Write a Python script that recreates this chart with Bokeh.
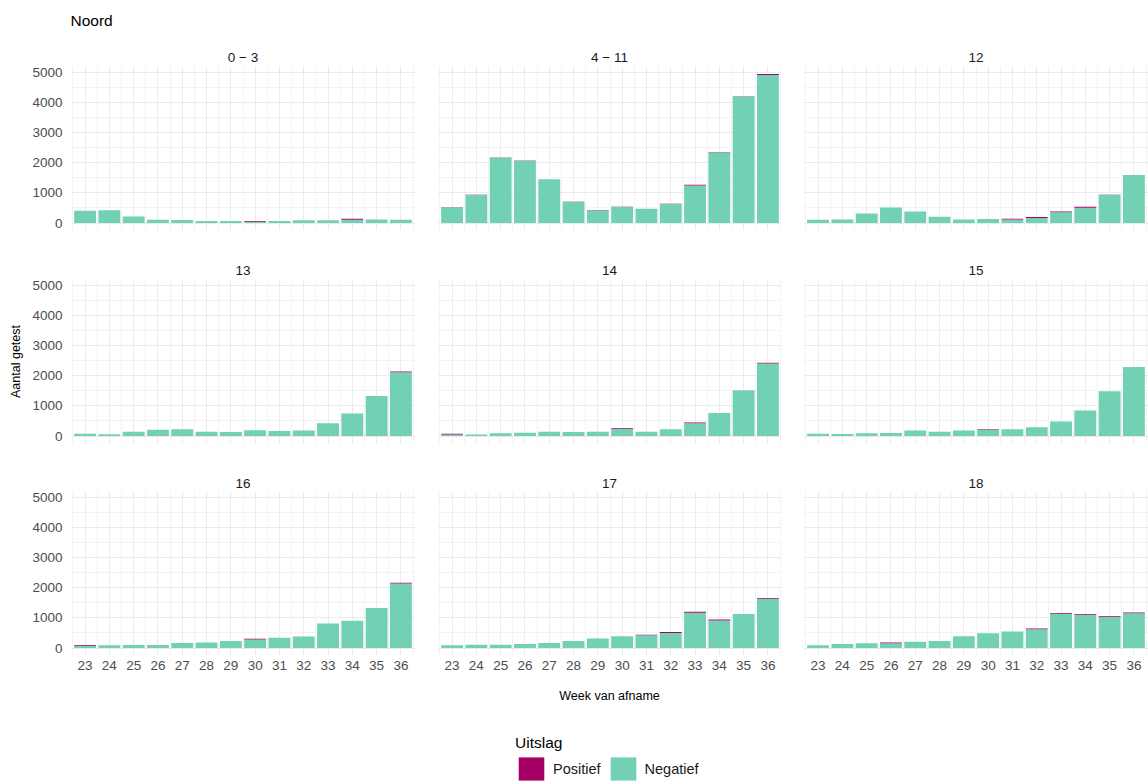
from bokeh.plotting import figure
from bokeh.models import ColumnDataSource, Range1d, FixedTicker, Label, Legend, LegendItem
from bokeh.layouts import column, row
from bokeh.embed import file_html
from bokeh.resources import INLINE

# ---------------- data ----------------
weeks = list(range(23, 37))
week_labels = [str(w) for w in weeks]
panel_names = ["0 \u2212 3", "4 \u2212 11", "12", "13", "14", "15", "16", "17", "18"]

tot_0_3 = [410, 420, 220, 110, 100, 65, 65, 65, 65, 95, 95, 140, 120, 110]
tot_4_11 = [520, 935, 2170, 2070, 1455, 705, 430, 540, 475, 640, 1265, 2355, 4205, 4940]
tot_12 = [110, 120, 320, 515, 385, 210, 120, 130, 145, 200, 385, 540, 935, 1595]
tot_13 = [80, 60, 145, 210, 225, 145, 135, 190, 170, 180, 425, 750, 1330, 2140]
tot_14 = [80, 55, 90, 110, 145, 135, 145, 260, 145, 225, 450, 760, 1520, 2425]
tot_15 = [80, 65, 90, 100, 180, 145, 180, 235, 225, 290, 480, 850, 1485, 2290]
tot_16 = [100, 90, 100, 100, 170, 180, 235, 305, 345, 380, 815, 905, 1330, 2160]
tot_17 = [90, 110, 110, 135, 170, 235, 315, 390, 440, 530, 1200, 945, 1130, 1655]
tot_18 = [90, 135, 155, 180, 210, 235, 390, 490, 545, 650, 1155, 1130, 1065, 1175]

pos_0_3 = [0, 0, 0, 0, 0, 0, 0, 25, 0, 0, 0, 30, 0, 0]
pos_4_11 = [5, 5, 5, 5, 5, 5, 5, 5, 5, 5, 20, 10, 10, 35]
pos_12 = [0, 0, 0, 0, 0, 0, 0, 0, 30, 30, 25, 30, 5, 5]
pos_13 = [0, 0, 0, 0, 0, 0, 0, 0, 0, 0, 0, 0, 0, 30]
pos_14 = [25, 0, 0, 0, 0, 0, 0, 25, 0, 0, 25, 0, 0, 20]
pos_15 = [0, 0, 0, 0, 0, 0, 0, 20, 0, 0, 0, 0, 0, 0]
pos_16 = [25, 0, 0, 0, 0, 0, 0, 25, 0, 0, 0, 0, 0, 25]
pos_17 = [0, 0, 0, 0, 0, 0, 0, 0, 15, 30, 30, 30, 5, 20]
pos_18 = [0, 0, 0, 20, 0, 0, 0, 0, 0, 25, 30, 25, 25, 25]

totals = [tot_0_3, tot_4_11, tot_12, tot_13, tot_14, tot_15, tot_16, tot_17, tot_18]
positives = [pos_0_3, pos_4_11, pos_12, pos_13, pos_14, pos_15, pos_16, pos_17, pos_18]

main_title = "Noord"
x_title = "Week van afname"
y_title = "Aantal getest"
legend_title = "Uitslag"
legend_labels = ["Positief", "Negatief"]

y_ticks = [0, 1000, 2000, 3000, 4000, 5000]
y_minor = [500, 1500, 2500, 3500, 4500]
x_minor = [w - 0.5 for w in weeks] + [weeks[-1] + 0.5]

# ---------------- style / layout ----------------
FONT = "Liberation Sans"
GREEN = "#72D0B4"
MAGENTA = "#A50064"
GRID = "#ebebeb"
GRID_MINOR = "#f3f3f3"
TICK_COL = "#4d4d4d"
W = 1148

peak = max(max(t) for t in totals)
y_lo, y_hi = -0.05 * peak, 1.05 * peak

col_w = [426, 366, 356]
col_bl = [70, 11, 11]
col_br = [11, 11, 0]
frame_w = [col_w[i] - col_bl[i] - col_br[i] for i in range(3)]
col_x0 = [0, col_w[0], col_w[0] + col_w[1]]
col_center = [col_x0[i] + col_bl[i] + frame_w[i] / 2 for i in range(3)]
FRAME_H = 164
row_bb = [8, 8, 25]
strip_h = [66, 41, 40]
strip_label_y = [57, 32, 32]
BOTTOM_H = 103
px_per_unit = frame_w[0] / 14.2


def helper(height):
    f = figure(width=W, height=height, title=None, toolbar_location=None, tools="",
               output_backend="svg", x_range=Range1d(0, W), y_range=Range1d(height, 0),
               min_border_left=0, min_border_right=0, min_border_top=0, min_border_bottom=0)
    f.axis.visible = False
    f.grid.visible = False
    f.outline_line_color = None
    f.border_fill_color = "white"
    f.background_fill_color = "white"
    return f


def panel(idx):
    r, c = divmod(idx, 3)
    x_end = min(22.4 + frame_w[c] / px_per_unit, 36.6)
    p = figure(width=col_w[c], height=FRAME_H + row_bb[r], title=None,
               toolbar_location=None, tools="", output_backend="svg",
               x_range=Range1d(22.4, x_end), y_range=Range1d(y_lo, y_hi),
               min_border_left=col_bl[c], min_border_right=col_br[c],
               min_border_top=0, min_border_bottom=row_bb[r])
    p.outline_line_color = None
    p.background_fill_color = "white"
    p.border_fill_color = "white"

    neg = [t - q for t, q in zip(totals[idx], positives[idx])]
    src = ColumnDataSource(dict(week=weeks, Negatief=neg, Positief=positives[idx]))
    p.vbar_stack(["Negatief", "Positief"], x="week", width=0.9, source=src,
                 fill_color=[GREEN, MAGENTA], line_color=None)

    xt = FixedTicker(ticks=weeks, minor_ticks=x_minor)
    yt = FixedTicker(ticks=y_ticks, minor_ticks=y_minor)
    p.xaxis.ticker = xt
    p.yaxis.ticker = yt
    p.xgrid.ticker = xt
    p.ygrid.ticker = yt
    for g in (p.xgrid, p.ygrid):
        g.grid_line_color = GRID
        g.grid_line_width = 1
        g.minor_grid_line_color = GRID_MINOR
        g.minor_grid_line_width = 1

    for ax in (p.xaxis, p.yaxis):
        ax.axis_line_color = None
        ax.major_tick_line_color = None
        ax.minor_tick_line_color = None
        ax.major_tick_out = 0
        ax.major_tick_in = 0
        ax.minor_tick_out = 0
        ax.minor_tick_in = 0
        ax.major_label_text_font = FONT
        ax.major_label_text_font_size = "13.5px"
        ax.major_label_text_color = TICK_COL
        ax.axis_label_text_font = FONT
        ax.axis_label_text_font_size = "12.5px"
        ax.axis_label_text_font_style = "normal"
        ax.axis_label_text_color = "#000000"

    p.yaxis.major_label_standoff = 8
    p.xaxis.major_label_standoff = 5
    p.xaxis.major_label_overrides = {w: l for w, l in zip(weeks, week_labels)}

    if c != 0:
        p.yaxis.visible = False
    if r != 2:
        p.xaxis.visible = False
    if r == 1 and c == 0:
        p.yaxis.axis_label = y_title
        p.yaxis.axis_label_standoff = 6
    return p


def strip(r):
    f = helper(strip_h[r])
    if r == 0:
        f.add_layout(Label(x=col_x0[0] + col_bl[0], y=20, text=main_title, text_align="left",
                           text_baseline="middle", text_font=FONT, text_font_size="15.5px",
                           text_color="#000000"))
    for c in range(3):
        f.add_layout(Label(x=col_center[c], y=strip_label_y[r], text=panel_names[r * 3 + c],
                           text_align="center", text_baseline="middle", text_font=FONT,
                           text_font_size="13.5px", text_color="#1a1a1a"))
    return f


rows = []
for r in range(3):
    rows.append(strip(r))
    rows.append(row(*[panel(r * 3 + c) for c in range(3)]))

# ---------------- x title + legend ----------------
bottom = helper(BOTTOM_H)
bottom.add_layout(Label(x=col_center[1], y=15, text=x_title, text_align="center",
                        text_baseline="middle", text_font=FONT, text_font_size="12.5px",
                        text_color="#000000"))
nan = float("nan")
r_pos = bottom.vbar(x=[nan], top=[nan], width=1, fill_color=MAGENTA, line_color=None)
r_neg = bottom.vbar(x=[nan], top=[nan], width=1, fill_color=GREEN, line_color=None)
legend = Legend(items=[LegendItem(label=legend_labels[0], renderers=[r_pos]),
                       LegendItem(label=legend_labels[1], renderers=[r_neg])],
                orientation="horizontal", location=(515, 0),
                title=legend_title, title_text_font=FONT, title_text_font_size="15.5px",
                title_text_font_style="normal", title_text_color="#000000",
                title_standoff=2,
                label_text_font=FONT, label_text_font_size="14.5px",
                label_text_color="#1a1a1a", label_standoff=6,
                glyph_width=32, glyph_height=29, label_height=29,
                spacing=6, padding=0, margin=0,
                border_line_color=None, background_fill_alpha=0)
bottom.add_layout(legend)
rows.append(bottom)

layout = column(*rows)

open("out.html", "w").write(file_html(layout, INLINE))
